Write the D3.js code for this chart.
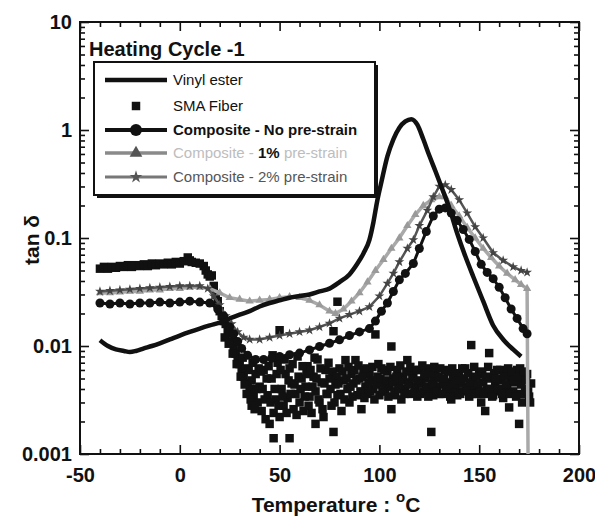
<!DOCTYPE html>
<html>
<head>
<meta charset="utf-8">
<script src="https://cdn.jsdelivr.net/npm/d3@7"></script>
<style>
  body { margin: 0; background: #fff; }
  svg { display: block; font-family: "Liberation Sans", Arial, sans-serif; }
</style>
</head>
<body>
<div id="chart"></div>
<script>
// tick labels
var xTicks = [-50, 0, 50, 100, 150, 200];
var yTicks = [0.001, 0.01, 0.1, 1, 10];
var legendLabels = ["Vinyl ester", "SMA Fiber", "Composite - No pre-strain", "Composite - 1% pre-strain", "Composite - 2% pre-strain"];

// [temperature, tan delta]
var vinylEster = [[-40,0.0113],[-36,0.0100],[-32,0.0093],[-28,0.0090],[-25,0.0088],[-22,0.0090],[-18,0.0095],[-14,0.0100],
  [-10,0.0106],[-5,0.0115],[0,0.0125],[5,0.0135],[10,0.0145],[15,0.0155],[20,0.0165],[25,0.018],[30,0.0195],[35,0.021],
  [40,0.0232],[45,0.025],[50,0.0265],[55,0.028],[60,0.029],[65,0.030],[70,0.032],[75,0.034],[80,0.039],[85,0.046],
  [89,0.058],[92,0.072],[95,0.096],[97,0.14],[99,0.225],[101,0.33],[104,0.57],[107,0.82],[110,1.05],[113,1.2],[116,1.26],
  [119,1.12],[122,0.82],[125,0.58],[128,0.42],[131,0.3],[135,0.19],[139,0.11],[143,0.068],[147,0.044],[152,0.026],
  [157,0.0155],[162,0.0115],[167,0.0093],[171,0.008]];

var smaFiber = [[-40,0.052],[-38,0.054],[-36,0.052],[-34,0.054],[-32,0.053],[-30,0.055],[-28,0.054],[-26,0.056],[-24,0.054],
  [-22,0.056],[-20,0.055],[-18,0.057],[-16,0.055],[-14,0.058],[-12,0.056],[-10,0.058],[-8,0.057],[-6,0.059],[-4,0.057],
  [-2,0.060],[0,0.058],[2,0.061],[4,0.066],[5,0.062],[6,0.060],[8,0.059],[10,0.058],[12,0.055],[13,0.050],[14,0.046],
  [15,0.044],[16,0.045],[17,0.036],[18,0.030],[19,0.026],[20,0.021],[21,0.019],[22,0.017],[23,0.016],[24,0.014],[25,0.013],
  [26,0.011],[27,0.0095],[28,0.0085],[29,0.0075],[30,0.0068],[31,0.006],[32,0.0052],[33,0.0062],[34,0.0045],[35,0.0040],
  [36,0.0048],[37,0.0034],[38,0.0055],[39,0.0030],[40,0.0042],[41,0.0025],[42,0.0060],[43,0.0021],[44,0.0035],[45,0.0019],
  [46,0.0050],[47,0.0014],[47,0.0024],[48,0.0032],[49,0.0070],[50,0.0022],[50,0.014],[51,0.0040],[52,0.0028],[53,0.0055],
  [54,0.0033],[55,0.0014],[55,0.0062],[56,0.0045],[57,0.0026],[58,0.0036],[59,0.0080],[60,0.0030],[61,0.0050],[62,0.0025],
  [63,0.0042],[64,0.0065],[65,0.0034],[66,0.0024],[67,0.0052],[68,0.0019],[68,0.0038],[69,0.0075],[70,0.0030],[71,0.0046],
  [72,0.0022],[73,0.0060],[74,0.0036],[75,0.0050],[76,0.0028],[77,0.0137],[77,0.0016],[78,0.0044],[79,0.0257],[79,0.0035],
  [80,0.0062],[81,0.0025],[82,0.0048],[83,0.0074],[84,0.0040],[85,0.0030],[86,0.0055],[87,0.0045],[88,0.0074],[89,0.0035],
  [90,0.0050],[91,0.0026],[92,0.0060],[93,0.0042],[94,0.0036],[95,0.0055],[96,0.0048],[97,0.0040],[98,0.0128],[99,0.0052],
  [100,0.0035],[101,0.0062],[102,0.0045],[103,0.0038],[104,0.0058],[105,0.0042],[106,0.0099],[106,0.0026],[107,0.0050],
  [108,0.0035],[109,0.0060],[110,0.0044],[111,0.0032],[112,0.0052],[113,0.0040],[114,0.0074],[115,0.0046],[116,0.0036],
  [117,0.0055],[118,0.0042],[119,0.0034],[120,0.0060],[121,0.0045],[122,0.0038],[123,0.0050],[124,0.0062],[125,0.0040],
  [126,0.0016],[127,0.0048],[127,0.0035],[128,0.0058],[129,0.0042],[130,0.0036],[131,0.0050],[132,0.0044],[133,0.0060],
  [134,0.0038],[135,0.0046],[136,0.0032],[137,0.0052],[138,0.0040],[139,0.0035],[140,0.0055],[141,0.0045],[142,0.0038],
  [143,0.0062],[144,0.0042],[145,0.0034],[146,0.0102],[147,0.0050],[148,0.0040],[149,0.0036],[150,0.0055],[151,0.0030],
  [152,0.0046],[153,0.0025],[154,0.0040],[155,0.0086],[156,0.0050],[157,0.0035],[158,0.0044],[159,0.0060],[160,0.0038],
  [161,0.0048],[162,0.0033],[163,0.0055],[164,0.0042],[165,0.0027],[166,0.0050],[167,0.0038],[168,0.0046],[169,0.0060],
  [170,0.0019],[171,0.0044],[171,0.0036],[172,0.0050],[173,0.0040],[174,0.0055],[175,0.0034],[176,0.0045],
  // second pass of readings between the ones above
  [22.5,0.012],[24.5,0.0105],[26.5,0.0085],[28.5,0.0068],[30.5,0.0052],[31.5,0.0078],[32.5,0.0044],[33.5,0.0036],
  [34.5,0.0060],[35.5,0.0032],[36,0.0028],[36.5,0.0070],[37.5,0.0026],[38.5,0.0040],[39.5,0.0062],
  [40.5,0.0058],[41.5,0.0040],[42.5,0.0032],[43.5,0.0050],[44.5,0.0065],[45.5,0.0030],[46.5,0.0082],[47.5,0.0040],
  [48.5,0.0055],[49.5,0.0028],[50.5,0.0060],[51.5,0.0034],[52.5,0.0075],[53.5,0.0024],[54.5,0.0048],[55.5,0.0036],
  [56.5,0.0068],[57.5,0.0044],[58.5,0.0023],[59.5,0.0052],[60.5,0.0040],[61.5,0.0065],[62.5,0.0034],[63.5,0.0055],
  [64.5,0.0028],[65.5,0.0060],[66.5,0.0042],[67.5,0.0078],[68.5,0.0050],[69.5,0.0032],[70.5,0.0062],[71.5,0.0026],
  [72.5,0.0045],[73.5,0.0036],[74.5,0.0070],[75.5,0.0040],[76.5,0.0058],[77.5,0.0030],[78.5,0.0052],[79.5,0.0045],
  [80.5,0.0036],[81.5,0.0058],[82.5,0.0032],[83.5,0.0050],[84.5,0.0064],[85.5,0.0042],[86.5,0.0034],[87.5,0.0060],
  [88.5,0.0048],[89.5,0.0066],[90.5,0.0038],[91.5,0.0052],[92.5,0.0033],[93.5,0.0062],[94.5,0.0046],[95.5,0.0038],
  [96.5,0.0064],[97.5,0.0032],[98.5,0.0044],[99.5,0.0068],[100.5,0.0050],[101.5,0.0038],[102.5,0.0060],[103.5,0.0048],
  [104.5,0.0034],[105.5,0.0064],[106.5,0.0046],[107.5,0.0038],[108.5,0.0052],[109.5,0.0040],[110.5,0.0066],[111.5,0.0048],
  [112.5,0.0036],[113.5,0.0058],[114.5,0.0044],[115.5,0.0064],[116.5,0.0050],[117.5,0.0037],[118.5,0.0060],[119.5,0.0048],
  [120.5,0.0036],[121.5,0.0066],[122.5,0.0054],[123.5,0.0042],[124.5,0.0034],[125.5,0.0056],[126.5,0.0044],[127.5,0.0064],
  [128.5,0.0038],[129.5,0.0052],[130.5,0.0062],[131.5,0.0036],[132.5,0.0050],[133.5,0.0042],[134.5,0.0058],[135.5,0.0034],
  [136.5,0.0062],[137.5,0.0044],[138.5,0.0056],[139.5,0.0048],[140.5,0.0036],[141.5,0.0062],[142.5,0.0050],[143.5,0.0040],
  [144.5,0.0056],[145.5,0.0046],[146.5,0.0036],[147.5,0.0064],[148.5,0.0052],[149.5,0.0044],[150.5,0.0038],[151.5,0.0058],
  [152.5,0.0036],[153.5,0.0052],[154.5,0.0064],[155.5,0.0040],[156.5,0.0034],[157.5,0.0056],[158.5,0.0050],[159.5,0.0040],
  [160.5,0.0060],[161.5,0.0036],[162.5,0.0052],[163.5,0.0044],[164.5,0.0062],[165.5,0.0036],[166.5,0.0058],[167.5,0.0048],
  [168.5,0.0034],[169.5,0.0052],[170.5,0.0062],[171.5,0.0030],[172.5,0.0058],[173.5,0.0048],[174.5,0.0038],[175.5,0.0030]];

var noPreStrain = [[-40,0.025],[-35,0.0245],[-30,0.025],[-25,0.0245],[-20,0.025],[-15,0.025],[-10,0.0255],[-5,0.025],
  [0,0.0255],[5,0.026],[10,0.0255],[15,0.025],[19,0.022],[22,0.019],[25,0.015],[27,0.013],[29,0.011],[31,0.0095],
  [34,0.0082],[38,0.0075],[42,0.0075],[46,0.0077],[50,0.008],[55,0.0083],[60,0.0086],[65,0.0092],[70,0.0099],[75,0.0106],
  [80,0.0114],[85,0.0125],[90,0.0135],[95,0.0145],[98,0.017],[101,0.021],[104,0.025],[107,0.032],[110,0.041],[113,0.047],
  [117,0.058],[120,0.08],[123.5,0.115],[127,0.16],[130,0.185],[133,0.19],[136,0.17],[139,0.145],[142,0.12],[145,0.097],
  [148,0.075],[151,0.057],[154,0.048],[157,0.042],[160,0.035],[163,0.028],[166,0.022],[169,0.018],[172,0.0145],[174,0.013]];

var preStrain1 = [[-40,0.031],[-35,0.031],[-30,0.0315],[-25,0.032],[-20,0.032],[-15,0.033],[-10,0.033],[-5,0.034],[0,0.034],
  [5,0.035],[10,0.035],[15,0.034],[20,0.031],[25,0.028],[30,0.027],[35,0.026],[40,0.0265],[45,0.027],[50,0.028],[55,0.0285],
  [60,0.028],[65,0.0265],[70,0.024],[75,0.021],[78,0.020],[82,0.022],[86,0.026],[90,0.031],[94,0.039],[98,0.05],[102,0.063],
  [106,0.08],[110,0.1],[114,0.13],[118,0.165],[122,0.2],[126,0.225],[130,0.24],[133,0.24],[136,0.2],[140,0.16],[144,0.125],
  [148,0.1],[152,0.08],[156,0.066],[160,0.055],[164,0.047],[168,0.041],[171,0.037],[174,0.034],[174.5,0.0008]];

var preStrain2 = [[-40,0.032],[-35,0.0325],[-30,0.033],[-25,0.0335],[-20,0.034],[-15,0.0345],[-10,0.035],[-5,0.0355],
  [0,0.036],[5,0.036],[10,0.036],[14,0.034],[17,0.029],[20,0.024],[23,0.019],[26,0.016],[29,0.0135],[32,0.012],[35,0.0115],
  [40,0.0115],[45,0.012],[50,0.0125],[55,0.013],[60,0.0135],[65,0.014],[70,0.015],[75,0.0162],[80,0.018],[85,0.0195],
  [90,0.021],[95,0.023],[100,0.029],[104,0.038],[107,0.047],[110,0.06],[114,0.08],[117,0.096],[120,0.13],[124,0.18],
  [127,0.24],[130,0.3],[133,0.31],[136,0.28],[140,0.225],[144,0.17],[148,0.127],[152,0.1],[157,0.073],[162,0.062],
  [167,0.054],[171,0.05],[174,0.048]];

var W = 595, H = 519;
var margin = {top: 22, right: 16, bottom: 65, left: 80};
var width = W - margin.left - margin.right,
    height = H - margin.top - margin.bottom;

var svg = d3.select("#chart").append("svg")
    .attr("width", W)
    .attr("height", H);

var g = svg.append("g")
    .attr("transform", "translate(" + margin.left + "," + margin.top + ")");

var x = d3.scaleLinear().domain([-50, 200]).range([0, width]);
var y = d3.scaleLog().domain([0.001, 10]).range([height, 0]);

svg.append("defs").append("clipPath").attr("id", "plotclip")
  .append("rect").attr("width", width).attr("height", height);

// minor tick values
var xMinor = d3.range(-40, 200, 10).filter(function(d) { return d % 50 !== 0; });
var yMinor = [];
[0.001, 0.01, 0.1, 1].forEach(function(dec) {
  for (var k = 2; k <= 9; k++) yMinor.push(dec * k);
});

function styleAxis(sel) {
  sel.select(".domain").remove();
  sel.selectAll("line").attr("stroke", "#111").attr("stroke-width", 1.6);
}
function styleLabels(sel) {
  sel.selectAll("text").attr("font-size", 20).attr("font-weight", "bold").attr("fill", "#111")
    .attr("font-family", "Liberation Sans, Arial, sans-serif");
}

// bottom axis
g.append("g").attr("transform", "translate(0," + height + ")")
  .call(d3.axisBottom(x).tickValues(xTicks).tickSize(-9).tickPadding(14).tickFormat(function(d) { return String(d); }))
  .call(styleAxis)
  .call(styleLabels);
g.append("g").attr("transform", "translate(0," + height + ")")
  .call(d3.axisBottom(x).tickValues(xMinor).tickSize(-5).tickFormat(""))
  .call(styleAxis);
// top axis
g.append("g")
  .call(d3.axisTop(x).tickValues(xTicks).tickSize(-9).tickFormat(""))
  .call(styleAxis);
g.append("g")
  .call(d3.axisTop(x).tickValues(xMinor).tickSize(-5).tickFormat(""))
  .call(styleAxis);

// left axis
g.append("g")
  .call(d3.axisLeft(y).tickValues(yTicks).tickSize(-9).tickPadding(8).tickFormat(function(d) { return String(d); }))
  .call(styleAxis)
  .call(styleLabels);
g.append("g")
  .call(d3.axisLeft(y).tickValues(yMinor).tickSize(-5).tickFormat(""))
  .call(styleAxis);
// right axis
g.append("g").attr("transform", "translate(" + width + ",0)")
  .call(d3.axisRight(y).tickValues(yTicks).tickSize(-9).tickFormat(""))
  .call(styleAxis);
g.append("g").attr("transform", "translate(" + width + ",0)")
  .call(d3.axisRight(y).tickValues(yMinor).tickSize(-5).tickFormat(""))
  .call(styleAxis);

// frame
g.append("rect")
  .attr("width", width).attr("height", height)
  .attr("fill", "none").attr("stroke", "#111").attr("stroke-width", 2);

// data
var plot = g.append("g").attr("clip-path", "url(#plotclip)");
var line = d3.line().x(function(d) { return x(d[0]); }).y(function(d) { return y(d[1]); });

// SMA fiber squares
plot.append("g").selectAll("path")
  .data(smaFiber).enter().append("path")
  .attr("transform", function(d) { return "translate(" + x(d[0]) + "," + y(d[1]) + ")"; })
  .attr("d", d3.symbol().type(d3.symbolSquare).size(72))
  .attr("fill", "#111");

// 1% pre-strain (light grey, triangles)
plot.append("path").datum(preStrain1)
  .attr("d", line).attr("fill", "none").attr("stroke", "#a9a9a9").attr("stroke-width", 3.5);
plot.append("g").selectAll("path")
  .data(preStrain1.slice(0, -1)).enter().append("path")
  .attr("transform", function(d) { return "translate(" + x(d[0]) + "," + y(d[1]) + ")"; })
  .attr("d", d3.symbol().type(d3.symbolTriangle).size(30))
  .attr("fill", "#9a9a9a");

// 2% pre-strain (dark grey, stars)
plot.append("path").datum(preStrain2)
  .attr("d", line).attr("fill", "none").attr("stroke", "#555").attr("stroke-width", 2.5);
plot.append("g").selectAll("path")
  .data(preStrain2).enter().append("path")
  .attr("transform", function(d) { return "translate(" + x(d[0]) + "," + y(d[1]) + ")"; })
  .attr("d", d3.symbol().type(d3.symbolStar).size(30))
  .attr("fill", "#444");

// no pre-strain (black, circles)
plot.append("path").datum(noPreStrain)
  .attr("d", line).attr("fill", "none").attr("stroke", "#111").attr("stroke-width", 3);
plot.append("g").selectAll("circle")
  .data(noPreStrain).enter().append("circle")
  .attr("cx", function(d) { return x(d[0]); })
  .attr("cy", function(d) { return y(d[1]); })
  .attr("r", 4.5)
  .attr("fill", "#111");

// vinyl ester (thick black line)
plot.append("path").datum(vinylEster)
  .attr("d", line.curve(d3.curveMonotoneX)).attr("fill", "none").attr("stroke", "#111").attr("stroke-width", 4.5);

// title inside plot
svg.append("text")
  .attr("x", 89).attr("y", 56)
  .attr("font-size", 20).attr("font-weight", "bold").attr("fill", "#111")
  .text("Heating Cycle -1");

// legend
var lg = svg.append("g").attr("transform", "translate(94,62)");
lg.append("rect").attr("x", 3).attr("y", 3).attr("width", 281).attr("height", 133).attr("fill", "#111");
lg.append("rect").attr("width", 281).attr("height", 133).attr("fill", "#fff").attr("stroke", "#111").attr("stroke-width", 2);

var rowY = [18, 44, 68, 91, 115];
var sx0 = 11, sx1 = 73, smid = 42, tx = 79;

// vinyl ester
lg.append("line").attr("x1", sx0).attr("x2", sx1).attr("y1", rowY[0]).attr("y2", rowY[0])
  .attr("stroke", "#111").attr("stroke-width", 4.5);
// SMA
lg.append("path").attr("transform", "translate(" + smid + "," + rowY[1] + ")")
  .attr("d", d3.symbol().type(d3.symbolSquare).size(72)).attr("fill", "#111");
// no pre-strain
lg.append("line").attr("x1", sx0).attr("x2", sx1).attr("y1", rowY[2]).attr("y2", rowY[2])
  .attr("stroke", "#111").attr("stroke-width", 4);
lg.append("circle").attr("cx", smid).attr("cy", rowY[2]).attr("r", 6).attr("fill", "#111");
// 1%
lg.append("line").attr("x1", sx0).attr("x2", sx1).attr("y1", rowY[3]).attr("y2", rowY[3])
  .attr("stroke", "#8a8a8a").attr("stroke-width", 3.5);
lg.append("path").attr("transform", "translate(" + smid + "," + rowY[3] + ")")
  .attr("d", d3.symbol().type(d3.symbolTriangle).size(70)).attr("fill", "#555");
// 2%
lg.append("line").attr("x1", sx0).attr("x2", sx1).attr("y1", rowY[4]).attr("y2", rowY[4])
  .attr("stroke", "#777").attr("stroke-width", 3);
lg.append("path").attr("transform", "translate(" + smid + "," + rowY[4] + ")")
  .attr("d", d3.symbol().type(d3.symbolStar).size(50)).attr("fill", "#555");

var lt = lg.selectAll("text.lab").data(legendLabels).enter().append("text")
  .attr("class", "lab")
  .attr("x", tx).attr("y", function(d, i) { return rowY[i] + 5; })
  .attr("font-size", 15)
  .attr("fill", function(d, i) { return i === 3 ? "#bdbdbd" : (i === 4 ? "#555" : "#111"); })
  .attr("font-weight", function(d, i) { return i === 2 ? "bold" : "normal"; });
lt.each(function(d, i) {
  var t = d3.select(this);
  if (i === 3) {
    t.append("tspan").text("Composite - ");
    t.append("tspan").attr("font-weight", "bold").attr("fill", "#111").text("1%");
    t.append("tspan").text(" pre-strain");
  } else {
    t.text(d);
  }
});

// axis titles
var xt = svg.append("text")
  .attr("x", 336).attr("y", 512)
  .attr("text-anchor", "middle")
  .attr("font-size", 21).attr("font-weight", "bold").attr("fill", "#111");
xt.append("tspan").text("Temperature : ");
xt.append("tspan").attr("font-size", 15).attr("dy", -10).text("o");
xt.append("tspan").attr("dy", 10).text("C");

svg.append("text")
  .attr("transform", "translate(39," + (margin.top + 218) + ") rotate(-90)")
  .attr("text-anchor", "middle")
  .attr("font-size", 21).attr("font-weight", "bold").attr("fill", "#111")
  .text("tan δ");
</script>
</body>
</html>
